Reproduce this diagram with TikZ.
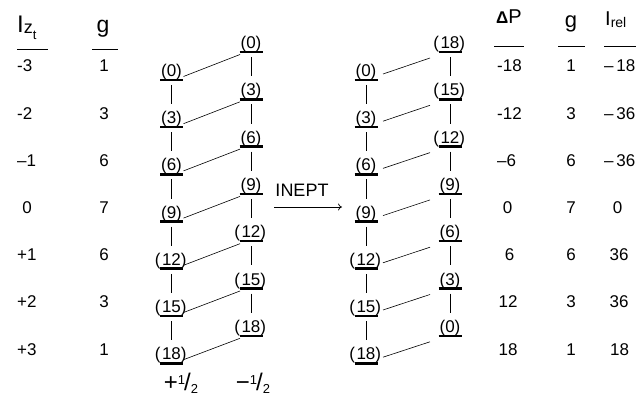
\documentclass[tikz,border=0pt]{standalone}
\usepackage{fontspec}
\setmainfont{Liberation Sans}
\usetikzlibrary{arrows.meta}
\newcommand\fs[1]{\fontsize{#1}{#1}\selectfont}
\newcommand\lvA[1]{\makebox[0pt][r]{(}#1\makebox[0pt][l]{)}}
\newcommand\lvB[1]{\makebox[0pt][r]{(\kern1.5pt}#1\makebox[0pt][l]{)}}
\newcommand\lvX[1]{\ifnum#1>9 \lvB{#1}\else\lvA{#1}\fi}
\begin{document}
\begin{tikzpicture}[x=1pt,y=-1pt,
  lv/.style={font=\fs{17}, inner sep=0pt, anchor=base},
  num/.style={font=\fs{17}, inner sep=0pt, anchor=base},
  numw/.style={num, anchor=base west},
  bar/.style={line width=2.6pt},
  rung/.style={line width=0.6pt},
  rulel/.style={line width=0.8pt},
]
\useasboundingbox (0,0) rectangle (638,409);

% ladders
\foreach \k in {0,...,6}{
  \pgfmathsetmacro\yl{80+47.2*\k-3.5}
  \pgfmathsetmacro\yr{52+47.3*\k-3.5}
  \pgfmathtruncatemacro\v{3*\k}
  \pgfmathtruncatemacro\w{18-3*\k}
  \node[lv] (A\k) at (171.5,\yl) {\lvX{\v}};
  \node[lv] (B\k) at (251,\yr) {\lvX{\v}};
  \node[lv] (C\k) at (366,\yl) {\lvX{\v}};
  \node[lv] (D\k) at (450,\yr) {\lvX{\w}};
  \foreach \n in {A,B,C,D}{
    \draw[bar] ([shift={(-11.5,3.5)}]\n\k.base) -- ([shift={(11.5,3.5)}]\n\k.base);
  }
  \draw[rung] ([shift={(12,0)}]A\k.base) -- ([shift={(-11,6)}]B\k.base);
  \draw[rung] ([shift={(17,-2.5)}]C\k.base) -- ([shift={(-20,9.5)}]D\k.base);
}
\foreach \k [evaluate=\k as \j using int(\k+1)] in {0,...,5}{
  \foreach \n in {A,B,C,D}{
    \draw[rung] ([shift={(0,8.5)}]\n\k.base) -- ([shift={(0,-19.5)}]\n\j.base);
  }
}

% left table
\node[anchor=base west, inner sep=0pt] (hI) at (17,33) {\fs{24}I\raisebox{-1pt}{\fs{18}z\raisebox{-6pt}{\fs{13}t}}};
\node[anchor=base, inner sep=0pt] (hg) at (103,33) {\fs{23}g};
\draw[rulel] (17,49) -- (48,49);
\draw[rulel] (92,49) -- (118,49);
\node[numw] (z0) at (17,72) {-3};
\node[numw] (z1) at (17,119.2) {-2};
\node[numw] (z2) at (17,166.4) {–1};
\node[num]  (z3) at (27,213.6) {0};
\node[numw] (z4) at (17,260.8) {+1};
\node[numw] (z5) at (17,308) {+2};
\node[numw] (z6) at (17,355.2) {+3};
\foreach \t [count=\i from 0] in {1,3,6,7,6,3,1}{
  \node[num] (g\i) at (104,{72+47.2*\i}) {\t};
}

% right table
\node[anchor=base west, inner sep=0pt] (hP) at (496,24) {{\fs{17}\bfseries Δ}{\fs{20}P}};
\node[anchor=base, inner sep=0pt] (hg2) at (571,28) {\fs{22}g};
\node[anchor=base west, inner sep=0pt] (hR) at (605,26) {{\fs{20}I}\raisebox{-2pt}{\fs{14}rel}};
\draw[rulel] (494,46) -- (524,46);
\draw[rulel] (558,46) -- (585,46);
\draw[rulel] (604,46) -- (636,46);
\node[numw] (p0) at (497,72) {-18};
\node[numw] (p1) at (497,119.2) {-12};
\node[numw] (p2) at (497,166.4) {–6};
\node[num]  (p3) at (507.5,213.6) {0};
\node[num]  (p4) at (509.5,260.8) {6};
\node[num]  (p5) at (508,308) {12};
\node[num]  (p6) at (508,355.2) {18};
\foreach \t [count=\i from 0] in {1,3,6,7,6,3,1}{
  \node[num] (q\i) at (571,{72+47.2*\i}) {\t};
}
\node[numw] (r0) at (604,72) {–\,18};
\node[numw] (r1) at (604,119.2) {–\,36};
\node[numw] (r2) at (604,166.4) {–\,36};
\node[num]  (r3) at (617.5,213.6) {0};
\node[num]  (r4) at (619,260.8) {36};
\node[num]  (r5) at (619,308) {36};
\node[num]  (r6) at (619.5,355.2) {18};

% INEPT arrow
\node[anchor=base, inner sep=0pt] (inept) at (302,197) {\fs{18}INEPT};
\coordinate (a1) at (274,207);
\coordinate (a2) at (342,207);
\draw[line width=0.7pt, -{To[length=4pt,width=7pt]}] (a1) -- (a2);

% spin labels
\node[anchor=base, inner sep=0pt] (sp) at (181,390) {\fs{24}+\raisebox{6pt}{\fs{13}1}\kern-1pt/\raisebox{-3pt}{\fs{13}2}};
\node[anchor=base, inner sep=0pt] (sm) at (253,390) {\fs{24}−\raisebox{6pt}{\fs{13}1}\kern-1pt/\raisebox{-3pt}{\fs{13}2}};
\end{tikzpicture}
\end{document}
